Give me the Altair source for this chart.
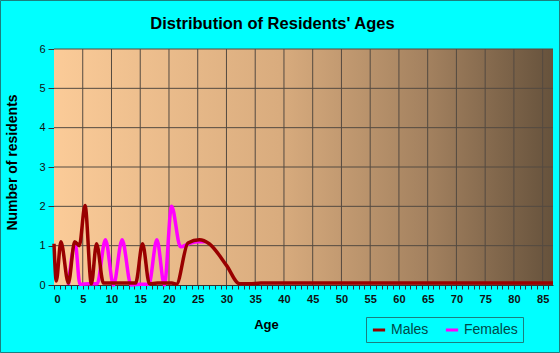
import altair as alt
import pandas as pd

# ---- data ----
male_age = [0, 0.4, 1.2, 2.5, 3.6, 4.4, 5.4, 6.5, 7.4, 8.6, 10, 12, 14.2, 15.4, 16.6, 18,
            20.5, 21.3, 23.3, 25.3, 27, 30, 32.3, 34, 36, 40, 50, 60, 70, 80, 86.8]
male_val = [1.05, 0.1, 1.1, 0.05, 1.1, 1.0, 2.02, 0.03, 1.05, 0.05, 0.05, 0.05, 0.05, 1.05, 0.03, 0.05,
            0.05, 0.02, 1.07, 1.15, 1.05, 0.5, 0.03, 0.03, 0.05, 0.05, 0.05, 0.05, 0.05, 0.05, 0.05]

female_age = [2.5, 3.7, 4.5, 6, 7.5, 8.95, 10.35, 11.85, 13.4, 15, 16.5, 17.9, 19.2, 20.45, 22.0,
              23.5, 25, 26.5]
female_val = [0.0, 1.05, 0.02, 0.03, 0.03, 1.15, 0.0, 1.15, 0.0, 0.02, 0.02, 1.15, 0.0, 2.0, 0.97,
              1.05, 1.1, 1.1]

series = ["Males", "Females"]
series_colors = ["#990000", "#FF00FF"]
x_grid = list(range(5, 90, 5))
y_grid = [1, 2, 3, 4, 5, 6]
x_ticks = list(range(0, 87))
y_ticks = [0, 1, 2, 3, 4, 5, 6]

W, H = 499, 236
FONT = "Liberation Sans"

males = pd.DataFrame({"age": male_age, "n": male_val, "sex": "Males"})
females = pd.DataFrame({"age": female_age, "n": female_val, "sex": "Females"})

xscale = alt.Scale(domain=[0, 86.8], nice=False, zero=False)
yscale = alt.Scale(domain=[0, 6], nice=False)
color = alt.Color("sex:N", scale=alt.Scale(domain=series, range=series_colors),
                  legend=alt.Legend(title=None, orient="none", legendX=312, legendY=268,
                                    direction="horizontal", strokeColor="#1b7f7f",
                                    padding=5, labelFont=FONT, labelFontSize=14,
                                    labelColor="#004848", symbolType="stroke",
                                    symbolStrokeWidth=3, symbolSize=150,
                                    labelOffset=4, columnPadding=10))

xaxis = alt.Axis(values=x_ticks, labelExpr="datum.value % 5 === 0 ? datum.label : ''",
                 grid=False, tickSize=4, tickColor="#333333", domainColor="#333333",
                 labelFont=FONT, labelFontSize=11, labelFontWeight="bold", labelColor="#111111",
                 labelPadding=4, title="Age", titleFont=FONT, titleFontSize=13,
                 titleFontWeight="bold", titleX=212, titleY=43,
                 titleAlign="center", titleBaseline="alphabetic")
yaxis = alt.Axis(values=y_ticks, grid=False, tickSize=6, tickColor="#333333",
                 domainColor="#333333", labelFont=FONT, labelFontSize=11, labelColor="#111111",
                 labelPadding=3, title="Number of residents", titleFont=FONT, titleFontSize=14,
                 titleFontWeight="bold", titleAngle=-90, titleX=-42, titleY=113,
                 titleAlign="center", titleBaseline="middle")

bg = alt.Chart(pd.DataFrame({"a": [0]})).mark_rect(
    fill=alt.Gradient(gradient="linear", x1=0, x2=1, y1=0, y2=0,
                      stops=[alt.GradientStop(color="#FBCB98", offset=0),
                             alt.GradientStop(color="#D9AC7E", offset=0.45),
                             alt.GradientStop(color="#A3815F", offset=0.75),
                             alt.GradientStop(color="#66523C", offset=1)])
).encode(x=alt.value(0), x2=alt.value(W), y=alt.value(0), y2=alt.value(H))

vgrid = alt.Chart(pd.DataFrame({"age": x_grid})).mark_rule(color="#544a40", strokeWidth=1).encode(
    x=alt.X("age:Q", scale=xscale, axis=xaxis))
hgrid = alt.Chart(pd.DataFrame({"n": y_grid})).mark_rule(color="#544a40", strokeWidth=1).encode(
    y=alt.Y("n:Q", scale=yscale, axis=yaxis))

fline = alt.Chart(females).mark_line(strokeWidth=3.5, interpolate="monotone").encode(
    x=alt.X("age:Q", scale=xscale, axis=xaxis),
    y=alt.Y("n:Q", scale=yscale, axis=yaxis),
    color=color)
mline = alt.Chart(males).mark_line(strokeWidth=3.5, interpolate="monotone").encode(
    x=alt.X("age:Q", scale=xscale, axis=xaxis),
    y=alt.Y("n:Q", scale=yscale, axis=yaxis),
    color=color)

border = alt.Chart(pd.DataFrame({"a": [0]})).mark_rect(
    fillOpacity=0, stroke="#1b7f7f", strokeWidth=1
).encode(x=alt.value(-53.5), x2=alt.value(W + 6.5), y=alt.value(-48.5), y2=alt.value(H + 67.5))

chart = alt.layer(bg, vgrid, hgrid, fline, mline, border).properties(
    width=W, height=H,
    title=alt.Title("Distribution of Residents' Ages", font=FONT, fontSize=16.5, fontWeight="bold",
                    color="#000000", anchor="middle", frame="group", dx=-31, dy=46, offset=14),
    autosize=alt.AutoSizeParams(type="none"),
    padding={"left": 54, "top": 49, "right": 7, "bottom": 68},
    background="#00FFFF",
).configure_view(stroke=None)

chart.save("out.html", embed_options={"renderer": "svg", "actions": False})
